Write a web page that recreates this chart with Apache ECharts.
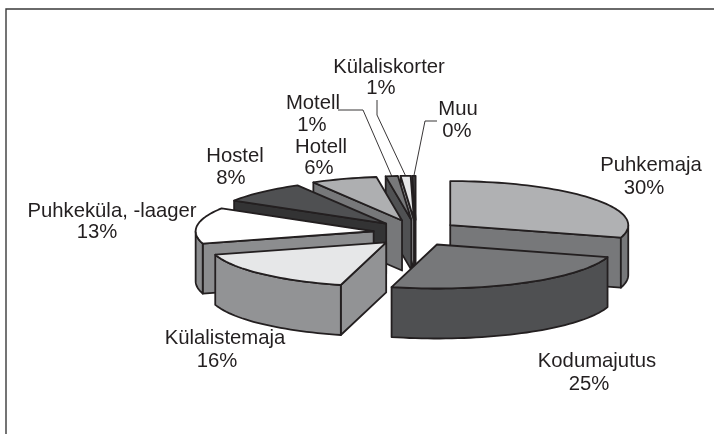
<!DOCTYPE html>
<html>
<head>
<meta charset="utf-8">
<script src="https://cdn.jsdelivr.net/npm/echarts@6/dist/echarts.min.js"></script>
<style>
	html, body { margin: 0; padding: 0; background: #fff; }
	#main { width: 714px; height: 434px; }
</style>
</head>
<body>
<div id="main"></div>
<script>
var names = ['Puhkemaja', 'Kodumajutus', 'Külalistemaja', 'Puhkeküla, -laager', 'Hostel', 'Hotell', 'Motell', 'Külaliskorter', 'Muu'];
var values = [29.6, 24.5, 16.4, 13.2, 8.0, 6.0, 1.1, 0.9, 0.3];

// top / wall colours per slice
var topColors = ['#b0b1b3', '#77787a', '#e6e7e8', '#ffffff', '#4f5052', '#aeafb1', '#77787a', '#e6e7e8', '#414042'];
var wallColors = ['#77787a', '#4f5052', '#929395', '#8c8d8f', '#333334', '#77787a', '#505153', '#929395', '#231f20'];

// [name x, name y, percent x, percent y]
var labelPos = [
	[651, 165, 644, 188],
	[597, 361, 589, 384],
	[225, 338, 217, 361],
	[112, 211, 97, 232],
	[235, 156, 231, 178],
	[321, 147, 319, 168],
	[313, 103, 312, 125],
	[389, 67, 381, 88],
	[458, 109, 457, 131]
];
// leader lines start, slice index -> two fixed points
var leaders = {
	6: [[338, 110], [363, 110]],
	7: [[377, 100], [377, 115]],
	8: [[437, 121], [425, 121]]
};

var cx = 416, cy = 233, rx = 178, ry = 44, depth = 50, explodeX = 0.24, explodeY = 0.3;
var inkColor = '#231f20';

var total = 0;
for (var i = 0; i < values.length; i++) total += values[i];

// slice angles, clockwise from north
var slices = [];
var acc = 0;
for (var i = 0; i < values.length; i++) {
	var a0 = acc / total * 360;
	acc += values[i];
	var a1 = acc / total * 360;
	var mid = (a0 + a1) / 2 * Math.PI / 180;
	slices.push({
		a0: a0,
		a1: a1,
		ox: cx + Math.sin(mid) * rx * explodeX,
		oy: cy - Math.cos(mid) * ry * explodeY,
		back: Math.cos(mid)
	});
}

// back slices first
var drawOrder = slices.map(function(s, i) { return i; }).sort(function(a, b) {
	return slices[b].back - slices[a].back;
});

var rimPoint = function(s, deg, drop) {
	var r = deg * Math.PI / 180;
	return [s.ox + Math.sin(r) * rx, s.oy - Math.cos(r) * ry + (drop || 0)];
};

var arcPoints = function(s, from, to, drop) {
	var pts = [];
	var n = Math.max(2, Math.ceil(Math.abs(to - from) / 2));
	for (var k = 0; k <= n; k++) {
		pts.push(rimPoint(s, from + (to - from) * k / n, drop));
	}
	return pts;
};

var poly = function(points, fill) {
	return {
		type: 'polygon',
		shape: { points: points },
		style: { fill: fill, stroke: inkColor, lineWidth: 1.8, lineJoin: 'round' }
	};
};

var renderSlice = function(params, api) {
	var idx = api.value(0);
	var s = slices[idx];
	var wall = wallColors[idx];
	var kids = [];
	var apex = [s.ox, s.oy];
	var apexLow = [s.ox, s.oy + depth];
	var rad0 = s.a0 * Math.PI / 180, rad1 = s.a1 * Math.PI / 180;

	// end wall faces the viewer on the right half, start wall on the left half
	if (Math.sin(rad1) > 0) {
		var p = rimPoint(s, s.a1);
		kids.push(poly([apex, p, [p[0], p[1] + depth], apexLow], wall));
	}
	if (Math.sin(rad0) < 0) {
		var q = rimPoint(s, s.a0);
		kids.push(poly([apex, q, [q[0], q[1] + depth], apexLow], wall));
	}
	// outer wall, only the front part of the ellipse
	var from = Math.max(s.a0, 90), to = Math.min(s.a1, 270);
	if (to > from) {
		var upper = arcPoints(s, from, to, 0);
		var lower = arcPoints(s, to, from, depth);
		kids.push(poly(upper.concat(lower), wall));
	}
	// top
	kids.push(poly([apex].concat(arcPoints(s, s.a0, s.a1, 0)), topColors[idx]));
	return { type: 'group', children: kids };
};

var renderLeader = function(params, api) {
	var idx = api.value(0);
	var s = slices[idx];
	var end = rimPoint(s, (s.a0 + s.a1) / 2);
	return {
		type: 'polyline',
		shape: { points: leaders[idx].concat([end]) },
		style: { fill: 'none', stroke: inkColor, lineWidth: 0.9 }
	};
};

var labelText = function(text, x, y) {
	return {
		type: 'text',
		x: x,
		y: y,
		style: {
			text: text,
			fill: inkColor,
			font: '20.3px "Liberation Sans", Arial, sans-serif',
			align: 'center',
			verticalAlign: 'middle'
		}
	};
};

var labelElements = [];
for (var i = 0; i < names.length; i++) {
	labelElements.push(labelText(names[i], labelPos[i][0], labelPos[i][1]));
	labelElements.push(labelText(Math.round(values[i]) + '%', labelPos[i][2], labelPos[i][3]));
}

// frame of the original figure, open to the right and bottom
var frame = {
	type: 'polyline',
	shape: { points: [[6, 434], [6, 9], [714, 9]] },
	style: { fill: 'none', stroke: '#3a3a3a', lineWidth: 1.4 }
};

var myChart = echarts.init(document.getElementById('main'), null, { renderer: 'canvas' });
myChart.setOption({
	backgroundColor: '#ffffff',
	animation: false,
	graphic: { elements: [frame].concat(labelElements) },
	series: [
		{
			type: 'custom',
			coordinateSystem: 'none',
			silent: true,
			z: 2,
			renderItem: renderSlice,
			data: drawOrder.map(function(i) { return [i, values[i]]; })
		},
		{
			type: 'custom',
			coordinateSystem: 'none',
			silent: true,
			z: 3,
			renderItem: renderLeader,
			data: [[6], [7], [8]]
		}
	]
});
</script>
</body>
</html>
